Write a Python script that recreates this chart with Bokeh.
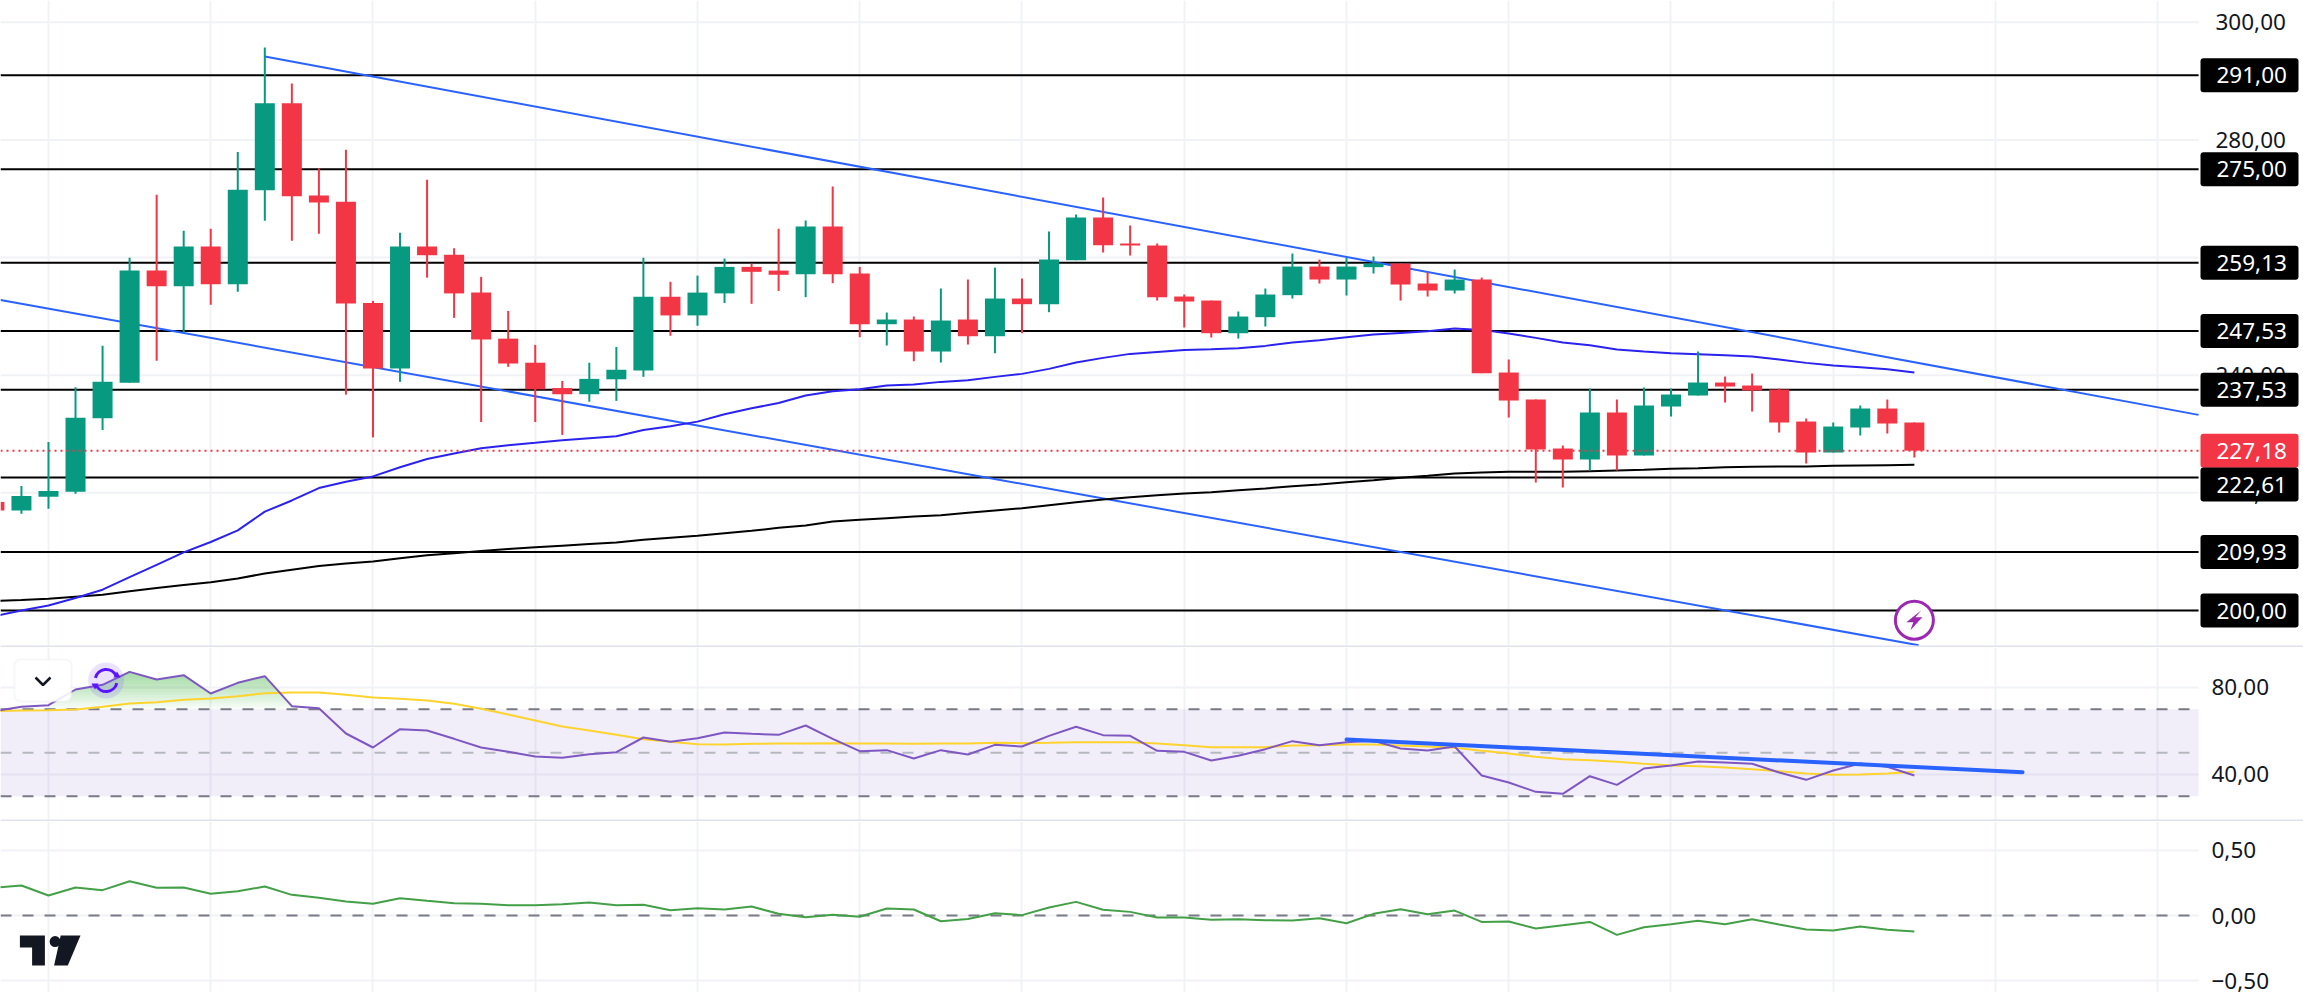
import numpy as np
from bokeh.embed import file_html
from bokeh.resources import INLINE
from bokeh.plotting import figure
from bokeh.layouts import column
from bokeh.models import FixedTicker, Label, BoxAnnotation, Range1d

# ---------- data ----------
opens = [218.43,217.01,219.34,220.19,232.67,238.74,257.79,255.11,261.88,255.46,271.47,286.22,270.56,269.50,252.29,241.14,261.88,260.47,254.05,246.22,242.13,237.82,236.77,239.31,240.79,253.34,250.17,253.91,258.42,257.79,257.18,265.28,257.29,248.67,249.47,244.03,249.47,246.63,253.04,252.08,259.56,266.81,262.39,262.05,253.38,252.70,247.14,249.87,253.61,258.48,256.27,258.37,258.99,255.59,254.40,256.27,240.46,235.87,227.54,225.67,233.66,226.35,234.68,236.55,238.76,238.25,237.57,232.13,226.86,231.11,234.34,231.96]
highs = [218.70,221.18,228.65,237.97,245.02,259.97,270.70,264.56,264.91,277.96,295.74,289.60,275.21,278.32,252.64,264.21,273.24,261.60,256.73,250.94,245.16,239.02,242.13,244.81,259.97,255.88,256.94,259.83,258.99,264.91,266.30,272.08,258.42,250.66,249.98,254.74,256.27,258.31,256.44,264.43,267.32,270.21,265.45,262.39,253.72,252.70,250.83,254.74,260.69,259.67,259.95,260.18,258.99,257.46,257.97,256.61,242.67,235.87,228.05,237.74,235.87,237.91,237.74,244.03,239.78,240.29,237.74,232.64,231.96,234.85,235.87,231.96]
lows = [216.80,216.45,217.30,219.84,230.70,238.74,242.48,247.28,252.00,254.19,266.25,262.87,264.07,236.70,229.43,238.88,256.59,249.75,232.04,241.42,232.04,229.85,235.50,235.64,239.73,246.71,248.41,252.29,252.14,254.33,253.27,255.65,246.46,245.05,242.38,242.16,245.22,243.74,247.14,250.72,259.56,260.86,260.35,252.70,248.11,246.41,246.24,248.28,253.04,255.59,253.55,257.29,252.70,253.38,253.89,240.34,232.81,221.76,220.91,223.80,223.80,226.35,232.98,236.55,235.36,233.83,230.26,224.99,226.86,229.75,230.09,226.01]
closes = [217.01,219.48,220.33,232.75,238.88,257.79,255.11,261.88,255.46,271.54,286.22,270.41,269.36,252.21,241.14,261.88,260.40,253.91,246.08,241.99,237.61,236.77,239.38,240.93,253.34,250.17,254.05,258.42,257.58,257.08,265.28,257.18,248.67,249.47,244.03,249.30,246.63,253.04,252.08,259.67,266.81,262.11,262.05,253.27,252.53,247.14,249.98,253.72,258.48,256.27,258.48,258.99,255.42,254.40,256.27,240.34,235.70,227.37,225.67,233.66,226.35,234.85,236.72,238.76,238.08,237.40,231.96,226.86,231.28,234.34,231.79,227.18]
ma_blue = [199.03,200.01,200.86,202.13,203.54,205.66,207.77,209.89,211.65,213.63,216.80,218.71,220.82,221.88,222.80,224.35,225.76,226.68,227.60,228.09,228.51,228.94,229.29,229.64,230.70,231.33,232.11,233.38,234.37,235.28,236.55,237.28,237.62,238.25,238.42,238.87,239.15,239.72,240.23,241.08,242.16,242.95,243.63,243.97,244.31,244.42,244.60,244.99,245.56,245.95,246.46,246.92,247.20,247.48,247.94,247.71,247.10,246.35,245.56,245.11,244.37,244.03,243.75,243.58,243.41,243.18,242.67,242.10,241.65,241.37,241.03,240.46]
ma_black = [201.64,201.78,201.99,202.34,202.69,203.26,203.82,204.32,204.81,205.44,206.29,206.93,207.56,207.98,208.34,208.90,209.40,209.75,210.10,210.45,210.74,211.02,211.30,211.58,212.01,212.36,212.71,213.13,213.56,214.05,214.45,215.13,215.41,215.69,215.98,216.20,216.60,217.00,217.39,217.90,218.41,218.87,219.26,219.60,219.89,220.11,220.45,220.74,221.13,221.42,221.81,222.15,222.55,222.89,223.29,223.46,223.57,223.57,223.57,223.68,223.80,223.91,224.08,224.19,224.36,224.42,224.48,224.48,224.59,224.65,224.70,224.76]
rsi = [69.12,71.11,71.88,79.08,81.23,87.20,83.68,85.67,77.24,82.15,85.21,71.42,70.50,58.85,52.41,60.84,60.23,56.40,52.41,50.42,48.28,47.66,49.35,50.27,57.01,55.02,56.71,59.31,58.70,58.24,62.53,56.40,50.73,51.19,47.36,51.19,49.20,53.64,52.87,57.78,61.92,58.09,57.78,50.88,50.42,46.44,48.58,51.65,55.33,53.49,54.87,55.48,51.95,51.04,52.87,39.54,36.32,32.03,31.11,39.23,35.25,42.76,44.14,45.98,45.52,44.91,40.92,37.55,41.84,45.06,43.53,39.54]
rsi_ma = [69.12,69.43,69.58,69.89,71.11,72.64,73.26,74.33,74.94,76.02,77.40,77.70,77.70,76.63,75.40,74.79,74.02,72.49,70.19,67.59,64.83,62.07,60.23,58.24,56.25,55.02,53.95,53.79,54.10,54.25,54.25,54.41,54.25,54.25,54.10,54.25,54.25,54.56,54.41,54.56,54.87,54.87,54.87,54.25,53.49,52.57,52.57,52.57,53.33,53.49,53.79,53.79,53.33,52.87,52.26,50.88,49.66,48.12,47.05,46.59,45.83,44.91,44.14,43.83,43.22,42.45,41.53,40.46,39.85,40.00,40.46,41.23]
osc = [0.213,0.231,0.154,0.215,0.195,0.264,0.213,0.215,0.167,0.187,0.223,0.159,0.136,0.108,0.090,0.133,0.113,0.095,0.090,0.079,0.079,0.087,0.100,0.079,0.082,0.041,0.056,0.046,0.069,0.013,-0.013,0.005,-0.010,0.054,0.046,-0.044,-0.026,0.018,0.003,0.062,0.105,0.044,0.028,-0.015,-0.015,-0.033,-0.028,-0.036,-0.038,-0.021,-0.059,0.013,0.049,0.010,0.038,-0.049,-0.046,-0.100,-0.074,-0.049,-0.149,-0.090,-0.067,-0.041,-0.067,-0.028,-0.069,-0.108,-0.115,-0.085,-0.110,-0.123]
levels = [291.00,275.00,259.13,247.53,237.53,222.61,209.93,200.00]
level_labels = ["291,00","275,00","259,13","247,53","237,53","222,61","209,93","200,00"]
tag_positions = [291.00,275.00,259.13,247.53,237.53,221.42,209.93,200.00]
last_price = 227.18
last_label = "227,18"
price_ticks = [200,220,240,260,280,300]
price_tick_labels = {200:"200,00",220:"220,00",240:"240,00",260:"260,00",280:"280,00",300:"300,00"}
rsi_ticks = [40,80]
rsi_tick_labels = {40:"40,00",80:"80,00"}
osc_ticks = [-0.5,0,0.5]
osc_tick_labels = {-0.5:"\u22120,50",0:"0,00",0.5:"0,50"}
vgrid_idx = [2,8,14,20,26,32,38,44,50,56,62,68,74,80]
trend_up_x, trend_up_y = [10,81.51],[294.19,233.26]
trend_lo_x, trend_lo_y = [0.226,71.16],[252.78,194.10]
rsi_trend_x, rsi_trend_y = [50,75],[56.09,41.07]

# ---------- style ----------
UP, DOWN = "#089981", "#F23645"
GRID, SEP = "#F1F2F5", "#E0E3EB"
FONT, FS = "Noto Sans", "22.5px"
XL, XR, XEND = 0.2256, 81.51, 85.39
PXU = 27.04
W = 2303

idx = np.arange(len(opens))

def make(h, y0, y1, ticks, tick_labels, standoff, bottom=0):
    p = figure(width=W, height=h, x_range=Range1d(XL, XEND), y_range=Range1d(y0, y1),
               output_backend="svg", toolbar_location=None, y_axis_location="right",
               min_border_left=0, min_border_top=0, min_border_bottom=bottom, min_border_right=0,
               outline_line_color=None, background_fill_color="white", border_fill_color="white")
    p.xaxis.visible = False
    ax = p.yaxis[0]
    ax.ticker = FixedTicker(ticks=ticks)
    ax.major_label_overrides = tick_labels
    ax.major_tick_line_color = None
    ax.minor_tick_line_color = None
    ax.axis_line_color = None
    ax.major_label_text_color = "#131722"
    ax.major_label_text_font = FONT
    ax.major_label_text_font_size = FS
    ax.major_label_standoff = standoff
    p.ygrid[0].visible = False
    p.xgrid[0].ticker = FixedTicker(ticks=vgrid_idx)
    p.xgrid[0].grid_line_color = GRID
    p.xgrid[0].grid_line_width = 2
    for t in ticks:
        p.line([XL, XR], [t, t], line_color=GRID, line_width=2, level="underlay")
    return p

def separator(p, top):
    p.add_layout(BoxAnnotation(left=0, right=W, top=top, bottom=top + 2,
                               left_units="canvas", right_units="canvas",
                               top_units="canvas", bottom_units="canvas",
                               fill_color=SEP, fill_alpha=1, line_color=None))

# ---------- main pane ----------
p1 = make(647, 193.71, 303.71, price_ticks, price_tick_labels, -94)
for lv in levels:
    p1.line([XL, XR], [lv, lv], line_color="#000000", line_width=2)
p1.line(trend_up_x, trend_up_y, line_color="#2962FF", line_width=2)
p1.line(trend_lo_x, trend_lo_y, line_color="#2962FF", line_width=2)
p1.line(idx, ma_black, line_color="#000000", line_width=2)
p1.line(idx, ma_blue, line_color="#2B22EE", line_width=2)
colors = [UP if c >= o else DOWN for o, c in zip(opens, closes)]
p1.segment(idx, lows, idx, highs, line_color=colors, line_width=2)
p1.vbar(x=idx, bottom=np.minimum(opens, closes), top=np.maximum(opens, closes), width=0.74,
        fill_color=colors, line_color=None)
p1.line([XL, XR], [last_price, last_price], line_color=DOWN, line_width=2, line_dash="2 4")
separator(p1, 645)

# lightning badge
cx, cy = 71.0, 198.35
p1.scatter([cx], [cy], marker="circle", size=38, fill_color="white", line_color="#9C27B0", line_width=3)
bolt = [(7, -10), (-8, 2), (-1, 2), (-4, 10), (8, -3), (1, -3)]
p1.patch([cx + a / PXU for a, b in bolt], [cy - b / 5.882 for a, b in bolt], fill_color="#9C27B0", line_color=None)

BOXH = 17 / 5.882
def price_tag(y, text, fill):
    p1.add_layout(BoxAnnotation(left=2200, right=2298, top=y + BOXH, bottom=y - BOXH,
                                left_units="canvas", right_units="canvas",
                                fill_color=fill, fill_alpha=1, line_color=None, border_radius=3))
    p1.add_layout(Label(x=2216, y=y, x_units="canvas", y_units="data", text=text, text_color="white",
                        text_font=FONT, text_font_size=FS, text_baseline="middle", text_align="left"))
for pos, tx in zip(tag_positions, level_labels):
    if pos > last_price:
        price_tag(pos, tx, "#000000")
price_tag(last_price, last_label, DOWN)
for pos, tx in zip(tag_positions, level_labels):
    if pos < last_price:
        price_tag(pos, tx, "#000000")

# ---------- RSI pane ----------
p2 = make(174, 18.39, 98.39, rsi_ticks, rsi_tick_labels, -98)
p2.quad(left=[XL], right=[XR], bottom=[30], top=[70], fill_color="#7E57C2", fill_alpha=0.1, line_color=None)
xf = np.arange(0, 71.001, 0.05)
rf = np.interp(xf, idx, rsi)
for t in np.linspace(70, 87, 14):
    p2.varea(xf, np.full_like(xf, t), np.maximum(rf, t), fill_color="#4CAF50", fill_alpha=0.045)
for lv, col in ((70, "#787B86"), (30, "#787B86"), (50, "#B6B8BF")):
    p2.line([XL, XR], [lv, lv], line_color=col, line_width=2, line_dash="11 11")
p2.line(idx, rsi_ma, line_color="#FDD32E", line_width=2)
p2.line(idx, rsi, line_color="#7E57C2", line_width=2)
p2.line(rsi_trend_x, rsi_trend_y, line_color="#2962FF", line_width=4, line_cap="round")
separator(p2, 172)

# collapse button and refresh icon
p2.add_layout(BoxAnnotation(left=14, right=71, top=12, bottom=54, left_units="canvas", right_units="canvas",
                            top_units="canvas", bottom_units="canvas", fill_color="white", fill_alpha=0.88,
                            line_color=SEP, line_width=2, border_radius=6))
def rx(px): return (px + 6.1) / PXU
def ry(py): return 80 - (py - 687) / 2.175
p2.line([rx(35), rx(42.5), rx(50)], [ry(677), ry(684.5), ry(677)], line_color="#131722", line_width=2.5, level="overlay")
ix, iy = rx(105.6), ry(680)
p2.scatter([ix], [iy], marker="circle", size=36, fill_color="#7B4DFF", fill_alpha=0.16, line_color=None, level="overlay")
p2.arc([ix], [iy], radius=11, radius_units="screen", start_angle=0.45, end_angle=2.9, line_color="#5A14FF", line_width=3, level="overlay")
p2.arc([ix], [iy], radius=11, radius_units="screen", start_angle=3.6, end_angle=6.05, line_color="#5A14FF", line_width=3, level="overlay")
p2.scatter([rx(116.5)], [ry(675)], marker="triangle", size=7, fill_color="#5A14FF", line_color=None, level="overlay")
p2.scatter([rx(94.5)], [ry(685)], marker="inverted_triangle", size=7, fill_color="#5A14FF", line_color=None, level="overlay")

# ---------- oscillator pane ----------
p3 = make(178, -0.592, 0.723, osc_ticks, osc_tick_labels, -98, bottom=7)
p3.line([XL, XR], [0, 0], line_color="#787B86", line_width=2, line_dash="11 11")
p3.line(idx, osc, line_color="#43A047", line_width=2)
def ox(px): return (px + 6.1) / PXU
def oy(py): return (915 - py) / 130
p3.patch([ox(v) for v in (19.4, 44.4, 44.4, 31.6, 31.6, 19.4)], [oy(v) for v in (935, 935, 965, 965, 947, 947)], fill_color="#131722", line_color=None)
p3.patch([ox(v) for v in (60.2, 80, 67.3, 53.6)], [oy(v) for v in (935, 935, 965, 965)], fill_color="#131722", line_color=None)
p3.scatter([ox(54.6)], [oy(941)], marker="circle", size=11, fill_color="#131722", line_color=None)

layout = column(p1, p2, p3, spacing=0)
open("out.html", "w").write(file_html(layout, INLINE))
